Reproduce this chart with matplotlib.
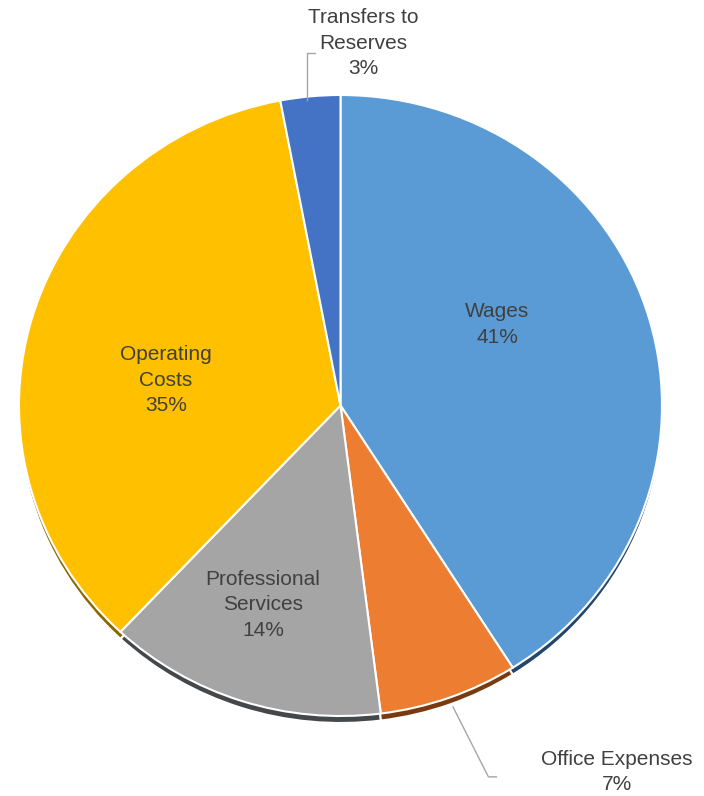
import matplotlib.pyplot as plt

# budget split, clockwise from 12 o'clock
categories = ["Wages", "Office Expenses", "Professional\nServices", "Operating\nCosts", "Transfers to\nReserves"]
shares = [41, 7, 14, 35, 3]
face_colors = ["#5B9BD5", "#ED7D31", "#A5A5A5", "#FFC000", "#4472C4"]
side_colors = ["#24466A", "#7A3A10", "#45484B", "#8A6800", "#22396A"]

# label anchors in pie units (x, y) and leader lines for the outside labels
label_pos = [(0.487, 0.262), (0.860, -1.180), (-0.241, -0.642), (-0.543, 0.082), (0.070, 1.167)]
leaders = {
    1: ([0.350, 0.460, 0.485], [-0.971, -1.196, -1.196]),
    4: ([-0.104, -0.104, -0.079], [0.984, 1.135, 1.135]),
}

W, H = 704, 796
cx, cy = 340.5, 405.5      # centre of the top face, px from top-left
rx, ry = 321.5, 310.5      # squashed radius of the tilted face
depth = 7                  # thickness of the pie edge, px

plt.rcParams['font.family'] = ['Liberation Sans', 'DejaVu Sans']
fig = plt.figure(figsize=(W / 100, H / 100), dpi=100)
ax = fig.add_axes([0, 0, 1, 1])

# side of the pie: same wedges pushed down by the depth
ax.pie(shares, colors=side_colors, startangle=90, counterclock=False,
       center=(0, -depth / ry), wedgeprops=dict(linewidth=1.5, edgecolor="white"))
# top face
ax.pie(shares, colors=face_colors, startangle=90, counterclock=False,
       wedgeprops=dict(linewidth=1.5, edgecolor="white"))

ax.set_aspect('auto')
ax.set_xlim(-cx / rx, (W - cx) / rx)
ax.set_ylim(-(H - cy) / ry, cy / ry)
ax.axis("off")

for i, (name, pct) in enumerate(zip(categories, shares)):
    x, y = label_pos[i]
    ax.text(x, y, f"{name}\n{pct}%", ha="center", va="center", fontsize=15,
            color="#404040", linespacing=1.45)

for xs, ys in leaders.values():
    ax.plot(xs, ys, color="#A6A6A6", linewidth=1)

fig.savefig("out.png", dpi=100, facecolor="white")
